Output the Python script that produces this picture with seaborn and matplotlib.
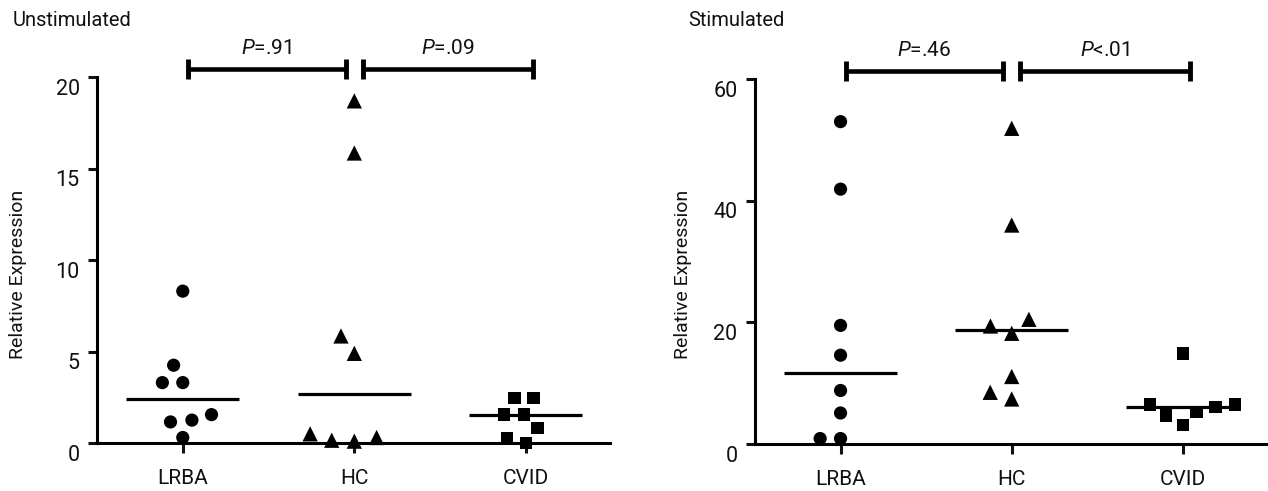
import numpy as np
import pandas as pd
import matplotlib
matplotlib.use('Agg')
import matplotlib.pyplot as plt
import matplotlib.transforms as mtransforms
import seaborn as sns

# values
groups = ['LRBA', 'HC', 'CVID']
markers = ['o', '^', 's']
marker_sizes = [9.5, 11, 9]

unstim_lrba = [8.3, 4.25, 3.3, 3.3, 1.55, 1.25, 1.15, 0.3]
unstim_hc = [18.7, 15.85, 5.85, 4.9, 0.5, 0.3, 0.15, 0.1]
unstim_cvid = [2.45, 2.45, 1.55, 1.55, 0.82, 0.27, 0.0]

stim_lrba = [53.0, 41.9, 19.5, 14.6, 8.8, 5.1, 0.9, 0.9]
stim_hc = [51.9, 36.0, 20.5, 19.4, 18.2, 11.1, 8.5, 7.4]
stim_cvid = [14.9, 6.5, 6.5, 6.1, 5.3, 4.7, 3.1]

unstim_p = ['=.91', '=.09']
stim_p = ['=.46', '<.01']

sns.set_theme(style='ticks')
plt.rcParams['font.family'] = ['Roboto', 'DejaVu Sans']
plt.rcParams['mathtext.fontset'] = 'custom'
plt.rcParams['mathtext.it'] = 'Roboto:italic'
plt.rcParams['mathtext.rm'] = 'Roboto'
for k in ['text.color', 'axes.labelcolor', 'xtick.color', 'ytick.color', 'axes.edgecolor']:
    plt.rcParams[k] = '#111111'

fig = plt.figure(figsize=(12.68, 4.91), dpi=100)
ax1 = fig.add_axes([0.0765, 0.0978, 0.4045, 0.7452])
ax2 = fig.add_axes([0.5954, 0.0957, 0.4036, 0.7433])


def make_df(vals):
    rows = []
    for g, v in zip(groups, vals):
        for y in v:
            rows.append({'group': g, 'value': y})
    return pd.DataFrame(rows)


def draw_panel(ax, vals, ymax, yticks, pvals, label_x, label_y):
    df = make_df(vals)
    # median lines
    sns.boxplot(data=df, x='group', y='value', order=groups, width=0.66,
                showbox=False, showcaps=False, showfliers=False,
                whiskerprops={'visible': False},
                medianprops={'color': 'black', 'linewidth': 2.3}, ax=ax)
    n_before = len(ax.collections)
    for g, m, s in zip(groups, markers, marker_sizes):
        sub = df[df.group == g]
        # invisible edge widens the swarm spacing like the original layout
        sns.swarmplot(data=sub, x='group', y='value', order=groups, marker=m,
                      color='black', size=s, linewidth=4.5, edgecolor='none', ax=ax)
    # let markers sitting on zero overlap the axis line
    for c in ax.collections[n_before:]:
        if len(c.get_offsets()) > 0:
            c.set_clip_on(False)
    ax.set_xlim(-0.5, 2.49)
    ax.set_ylim(0, ymax)
    ax.set_yticks(yticks)
    ax.set_xlabel('')
    ax.set_ylabel('Relative Expression', fontsize=14)
    ax.yaxis.set_label_coords(label_x, label_y)
    sns.despine(ax=ax)
    for sp in ['left', 'bottom']:
        ax.spines[sp].set_linewidth(2.2)
        ax.spines[sp].set_color('black')
    ax.tick_params(axis='x', length=7, width=2.2, direction='out', pad=12,
                   labelsize=15)
    ax.tick_params(axis='y', length=6.5, width=2.2, direction='out', pad=6,
                   labelsize=15.5)
    off = mtransforms.ScaledTranslation(0, -7 / 72, fig.dpi_scale_trans)
    for lab in ax.get_yticklabels():
        lab.set_transform(lab.get_transform() + off)

    # significance brackets
    trans = mtransforms.blended_transform_factory(ax.transData, ax.transAxes)
    spans = [(0.03, 0.95), (1.05, 2.04)]
    for (x0, x1), p in zip(spans, pvals):
        ax.plot([x0, x1], [1.023, 1.023], color='black', lw=3.3, marker='|',
                ms=14, mew=3.5, transform=trans, clip_on=False,
                solid_capstyle='butt')
        ax.text((x0 + x1) / 2, 1.077, r'$\mathit{P}$' + p, ha='center', va='center',
                fontsize=15, transform=trans)
    return ax


draw_panel(ax1, [unstim_lrba, unstim_hc, unstim_cvid], 20, [0, 5, 10, 15, 20],
           unstim_p, -0.136, 0.462)
draw_panel(ax2, [stim_lrba, stim_hc, stim_cvid], 60, [0, 20, 40, 60],
           stim_p, -0.123, 0.466)

fig.text(13 / 1268, 1 - 20 / 491, 'Unstimulated', ha='left', va='center', fontsize=14.5)
fig.text(688 / 1268, 1 - 20 / 491, 'Stimulated', ha='left', va='center', fontsize=14.5)

fig.savefig('out.png', dpi=100)
